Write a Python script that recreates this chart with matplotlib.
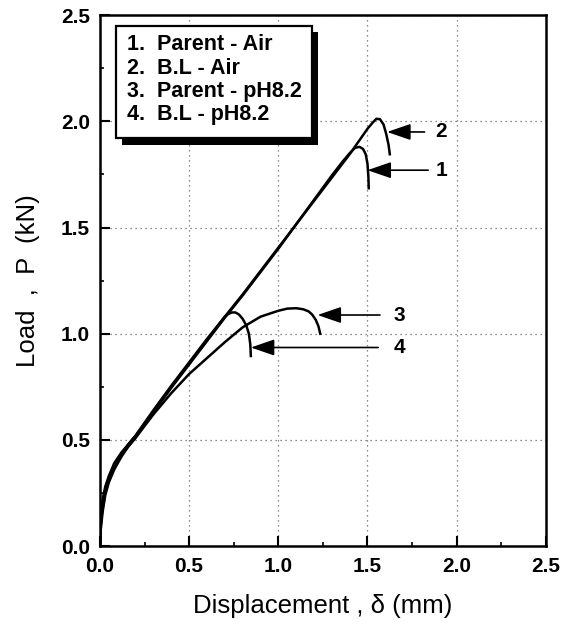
import matplotlib.pyplot as plt
from matplotlib.patches import Rectangle
from matplotlib.ticker import MultipleLocator

# Load-displacement curves
parent_air_x = [0, 0.005, 0.015, 0.03, 0.05, 0.08, 0.12, 0.16, 0.2, 0.3, 0.4, 0.5, 0.6, 0.7,
                0.8, 0.9, 1.0, 1.1, 1.2, 1.3, 1.36, 1.4, 1.43, 1.455, 1.475, 1.49, 1.5,
                1.505, 1.507]
parent_air_y = [0, 0.08, 0.16, 0.24, 0.3, 0.36, 0.42, 0.47, 0.51, 0.63, 0.745, 0.855, 0.965,
                1.075, 1.18, 1.29, 1.4, 1.515, 1.63, 1.745, 1.81, 1.85, 1.875, 1.88, 1.87,
                1.845, 1.8, 1.74, 1.685]

bl_air_x = [0, 0.005, 0.015, 0.03, 0.05, 0.08, 0.12, 0.16, 0.2, 0.3, 0.4, 0.5, 0.6, 0.7,
            0.8, 0.9, 1.0, 1.1, 1.2, 1.3, 1.4, 1.45, 1.5, 1.53, 1.55, 1.57, 1.59, 1.605,
            1.618, 1.625]
bl_air_y = [0, 0.11, 0.19, 0.26, 0.32, 0.38, 0.43, 0.48, 0.52, 0.635, 0.75, 0.86, 0.97,
            1.08, 1.185, 1.295, 1.405, 1.515, 1.625, 1.735, 1.845, 1.905, 1.965, 1.995,
            2.012, 2.01, 1.985, 1.94, 1.89, 1.845]

parent_ph_x = [0, 0.005, 0.015, 0.03, 0.05, 0.08, 0.12, 0.16, 0.2, 0.3, 0.4, 0.5, 0.6, 0.7,
               0.8, 0.9, 1.0, 1.05, 1.1, 1.14, 1.17, 1.19, 1.21, 1.225, 1.235]
parent_ph_y = [0, 0.1, 0.18, 0.25, 0.31, 0.37, 0.43, 0.47, 0.51, 0.62, 0.72, 0.81, 0.885,
               0.96, 1.03, 1.08, 1.108, 1.118, 1.12, 1.115, 1.105, 1.09, 1.065, 1.035, 1.0]

bl_ph_x = [0, 0.005, 0.015, 0.03, 0.05, 0.08, 0.12, 0.16, 0.2, 0.3, 0.4, 0.5, 0.6, 0.7,
           0.72, 0.74, 0.76, 0.78, 0.8, 0.82, 0.835, 0.843, 0.846]
bl_ph_y = [0, 0.14, 0.22, 0.28, 0.33, 0.39, 0.44, 0.48, 0.52, 0.64, 0.755, 0.865, 0.975,
           1.08, 1.093, 1.1, 1.1, 1.09, 1.07, 1.04, 1.0, 0.95, 0.895]

legend_lines = ['1.  Parent - Air', '2.  B.L - Air', '3.  Parent - pH8.2', '4.  B.L - pH8.2']

# arrow tips, tails and label positions
arrow_labels = ['1', '2', '3', '4']
arrow_tip_x = [1.50, 1.61, 1.22, 0.846]
arrow_tip_y = [1.77, 1.95, 1.088, 0.935]
arrow_tail_x = [1.84, 1.82, 1.57, 1.56]
label_x = [1.915, 1.915, 1.68, 1.68]

plt.rcParams['font.family'] = ['Liberation Sans', 'DejaVu Sans']

fig = plt.figure(figsize=(5.71, 6.32), dpi=100)
ax = fig.add_axes([0.175, 0.136, 0.781, 0.84])

for xs, ys in [(parent_air_x, parent_air_y), (bl_air_x, bl_air_y),
               (parent_ph_x, parent_ph_y), (bl_ph_x, bl_ph_y)]:
    ax.plot(xs, ys, color='black', lw=1.8, solid_joinstyle='round')

for i in range(4):
    ax.annotate('', xy=(arrow_tip_x[i], arrow_tip_y[i]),
                xytext=(arrow_tail_x[i], arrow_tip_y[i]),
                arrowprops=dict(arrowstyle='-|>,head_length=1.45,head_width=0.5',
                                mutation_scale=10, color='black', lw=1.2,
                                shrinkA=0, shrinkB=0))
    ax.text(label_x[i], arrow_tip_y[i], arrow_labels[i], fontsize=15,
            fontweight='bold', va='center', ha='center')

ax.set_xlim(0, 2.5)
ax.set_ylim(0, 2.5)
ax.xaxis.set_major_locator(MultipleLocator(0.5))
ax.yaxis.set_major_locator(MultipleLocator(0.5))
ax.xaxis.set_minor_locator(MultipleLocator(0.25))
ax.yaxis.set_minor_locator(MultipleLocator(0.25))
ax.tick_params(which='both', direction='in')
ax.tick_params(axis='x', which='major', pad=8)
ax.tick_params(axis='y', which='major', pad=7)
ax.tick_params(which='major', length=7, width=1.5, labelsize=15)
ax.tick_params(which='minor', length=3, width=1.2)
for lab in ax.get_xticklabels() + ax.get_yticklabels():
    lab.set_fontweight('bold')
for sp in ax.spines.values():
    sp.set_linewidth(1.8)
ax.grid(True, which='major', linestyle=(0, (1, 3)), color='0.4', lw=0.9)

ax.set_xlabel('Displacement , δ (mm)', fontsize=18.5, labelpad=13)
ax.set_ylabel('Load  ,  P  (kN)', fontsize=18.5, labelpad=15)

# legend box with drop shadow
ax.add_patch(Rectangle((0.124, 1.89), 1.1, 0.53, facecolor='black', zorder=4))
ax.add_patch(Rectangle((0.09, 1.92), 1.1, 0.53, facecolor='white',
                       edgecolor='black', lw=1.6, zorder=5))
for i, line in enumerate(legend_lines):
    ax.text(0.15, 2.36 - i * 0.109, line, fontsize=15.5, fontweight='bold',
            va='center', ha='left', zorder=6)

fig.savefig('out.png', dpi=100)
